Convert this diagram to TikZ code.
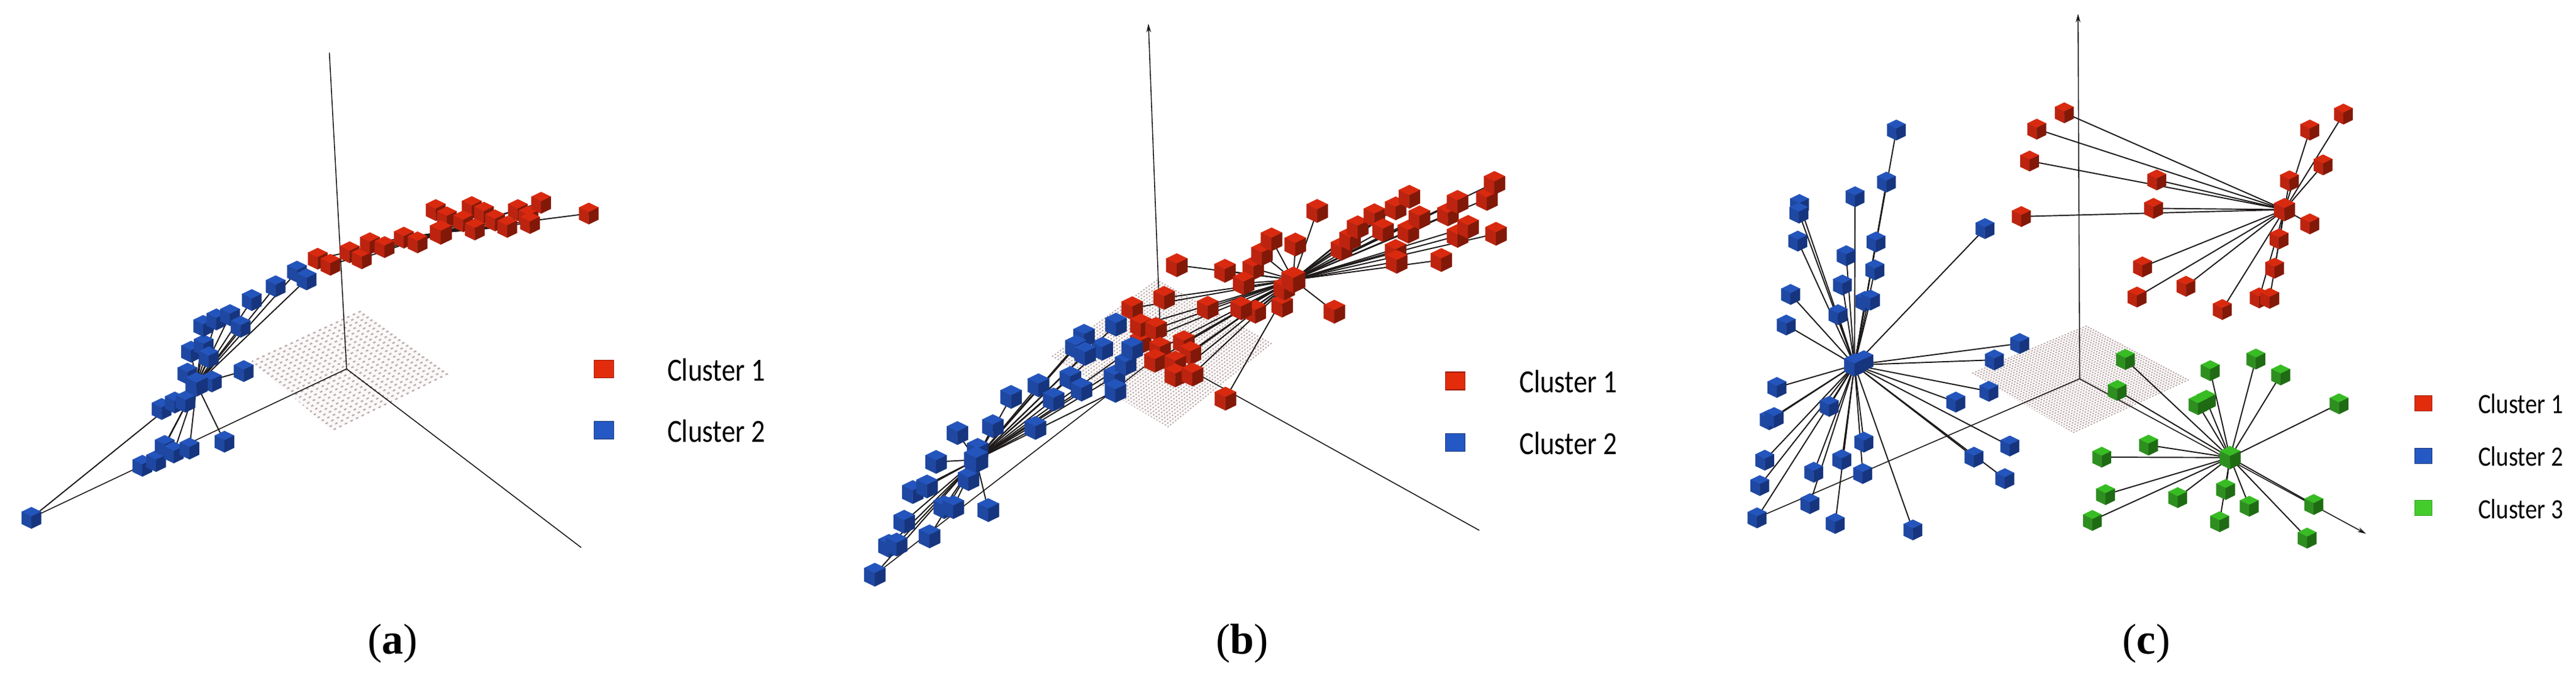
\documentclass[tikz,border=0pt]{standalone}
\usepackage{xcolor}
\usepackage{fontspec}
\usepackage{tikz}
\usetikzlibrary{calc, arrows.meta}
\setmainfont{Liberation Serif}
\newfontfamily\legendfont[FakeStretch=0.85]{Carlito}
\definecolor{redtop}{HTML}{D92A10}
\definecolor{redleft}{HTML}{BC2410}
\definecolor{redright}{HTML}{821808}
\definecolor{bluetop}{HTML}{2455BC}
\definecolor{blueleft}{HTML}{1E48A2}
\definecolor{blueright}{HTML}{16357E}
\definecolor{greentop}{HTML}{38BC24}
\definecolor{greenleft}{HTML}{2E8F20}
\definecolor{greenright}{HTML}{1F6B14}
\definecolor{legendRed}{HTML}{E22C0C}
\definecolor{legendBlue}{HTML}{2458C4}
\definecolor{legendGreen}{HTML}{44CC2C}
\definecolor{linkColor}{HTML}{1E1A1A}
\definecolor{gridFill}{HTML}{FAF8F8}
\definecolor{gridDot}{HTML}{B39E9E}
\pgfdeclarelayer{back}
\pgfdeclarelayer{links}
\pgfsetlayers{back,links,main}

% one cluster: colour, hub name, hub position, other cubes, cube scale
\newcommand\cluster[5]{
  \coordinate (#2) at (#3);
  \foreach \x/\y [count=\i] in {#4} {
    \coordinate (#2-\i) at (\x,\y);
    \begin{pgfonlayer}{links}
      \draw[link] (#2) -- (#2-\i);
    \end{pgfonlayer}
    \pic[scale=#5] at (#2-\i) {cube=#1};
  }
  \pic[scale=#5*1.12] at (#2) {cube=#1};
}
% floor plane: top, right, bottom, left corner, rows, row style
\newcommand\floorplane[6]{
  \begin{pgfonlayer}{back}
    \coordinate (T) at (#1);
    \coordinate (R) at (#2);
    \coordinate (B) at (#3);
    \coordinate (L) at (#4);
    \fill[gridFill] (T) -- (R) -- (B) -- (L) -- cycle;
    \foreach \k in {0,...,#5} {
      \pgfmathsetmacro\t{\k/#5}
      \draw[#6] ($(T)!\t!(R)$) -- ($(L)!\t!(B)$);
    }
  \end{pgfonlayer}
}

\begin{document}
\begin{tikzpicture}[
  link/.style={linkColor, line width=0.55pt},
  axisline/.style={linkColor, line width=0.45pt},
  axisarrow/.style={axisline, -{Stealth[length=4pt, width=2.2pt]}},
  coarserow/.style={gridDot!85, line width=0.7pt, dash pattern=on 1.2pt off 1.7pt},
  finerow/.style={gridDot, line width=0.45pt, dash pattern=on 0.7pt off 0.8pt},
  legendbox/.style={rectangle, inner sep=0pt, minimum width=0.32cm, minimum height=0.29cm, line width=0.3pt},
  legendtext/.style={anchor=base west, inner sep=0pt, font=\legendfont\fontsize{15}{15}\selectfont},
  smalltext/.style={anchor=base west, inner sep=0pt, font=\legendfont\fontsize{13}{13}\selectfont},
  subcaption/.style={font=\fontsize{20}{20}\selectfont, inner sep=0pt},
  pics/cube/.style={code={
    \begin{scope}[x=0.01cm, y=0.01cm, line width=0.1pt]
      \filldraw[#1top] (0,16) -- (14.5,9) -- (0,2) -- (-14.5,9) -- cycle;
      \filldraw[#1left] (-14.5,9) -- (0,2) -- (0,-16) -- (-14.5,-9) -- cycle;
      \filldraw[#1right] (14.5,9) -- (0,2) -- (0,-16) -- (14.5,-9) -- cycle;
    \end{scope}
  }}
]
  \useasboundingbox (0,0) rectangle (42.12,-11.02);

  % Panel a
  \begin{scope}[x=0.008291cm, y=-0.007028cm]
    \floorplane{712,723}{884,868}{655,1000}{497,840}{22}{coarserow}
    \coordinate (originA) at (684,857);
    \coordinate (upA) at (650,122);
    \coordinate (rightA) at (1147,1272);
    \coordinate (leftA) at (62,1203);
    \begin{pgfonlayer}{back}
      \draw[axisline] (originA) -- (upA);
      \draw[axisline] (originA) -- (rightA);
      \draw[axisline] (originA) -- (leftA);
    \end{pgfonlayer}
    \pic[scale=1.1] at (281,1082) {cube=blue};
    \cluster{blue}{hubBlueA}{388,893}{62/1203, 308/1071, 325/1036, 343/1051, 374/1042, 443/1026, 319/950, 345/935, 366/933, 481/862, 418/886, 370/868, 377/817, 402/802, 412/830, 401/757, 427/742, 454/732, 475/759, 497/697, 544/665, 586/631, 605/649}{1.1}
    \cluster{red}{hubRedA}{870,540}{627/601, 652/615, 690/586, 714/600, 730/565, 759/574, 797/552, 824/563, 860/488, 882/505, 931/481, 914/514, 955/494, 977/512, 937/533, 1001/527, 1022/488, 1043/503, 1046/518, 1068/471, 1162/496}{1.1}
    \node[legendbox, draw=legendRed!70!black, fill=legendRed] (boxRedA) at (1192,857) {};
    \node[legendbox, draw=legendBlue!60!black, fill=legendBlue] (boxBlueA) at (1192,1000) {};
    \node[legendtext] (textRedA) at (1316,885) {Cluster 1};
    \node[legendtext] (textBlueA) at (1316,1027) {Cluster 2};
    \node[subcaption] (capA) at (775,1495) {(\textbf{a})};
  \end{scope}

  % Panel b
  \begin{scope}[xshift=13.5cm, x=0.008291cm, y=-0.007028cm]
    \floorplane{655,650}{880,797}{675,992}{445,830}{42}{finerow}
    \coordinate (originB) at (662,822);
    \coordinate (upB) at (637,55);
    \coordinate (rightB) at (1290,1232);
    \coordinate (leftB) at (97,1335);
    \begin{pgfonlayer}{back}
      \draw[axisarrow] (originB) -- (upB);
      \draw[axisline] (originB) -- (rightB);
      \draw[axisline] (originB) -- (leftB);
    \end{pgfonlayer}
    \cluster{red}{hubRedB}{923,650}{693/616, 788/629, 844/623, 825/658, 861/590, 880/556, 927/568, 970/490, 1004/724, 901/710, 848/724, 820/716, 754/715, 668/692, 605/716, 622/795, 622/756, 652/764, 660/810, 707/795, 720/820, 650/838, 690/842, 690/872, 724/870, 789/926, 1018/578, 1035/555, 1050/528, 1083/500, 1100/535, 1125/484, 1152/457, 1150/538, 1172/505, 1228/498, 1247/469, 1305/462, 1320/425, 1247/548, 1268/527, 1323/543, 1215/604, 1125/583, 1127/608, 905/670}{1.2}
    \cluster{blue}{hubBlueB}{297,1068}{97/1335, 125/1268, 140/1265, 205/1246, 155/1212, 321/1185, 234/1178, 252/1178, 172/1143, 200/1130, 282/1113, 218/1073, 260/1006, 300/1045, 330/990, 414/994, 366/922, 420/895, 450/928, 483/878, 505/905, 570/875, 572/908, 592/845, 605/810, 546/810, 510/780, 494/806, 512/822, 573/754}{1.2}
    \node[legendbox, draw=legendRed!70!black, fill=legendRed] (boxRedB) at (1243,885) {};
    \node[legendbox, draw=legendBlue!60!black, fill=legendBlue] (boxBlueB) at (1243,1028) {};
    \node[legendtext] (textRedB) at (1368,912) {Cluster 1};
    \node[legendtext] (textBlueB) at (1368,1055) {Cluster 2};
    \node[subcaption] (capB) at (822,1495) {(\textbf{b})};
  \end{scope}

  % Panel c
  \begin{scope}[xshift=28cm, x=0.009005cm, y=-0.007028cm]
    \floorplane{680,757}{865,882}{655,1005}{470,868}{42}{finerow}
    \coordinate (originC) at (667,880);
    \coordinate (upC) at (664,32);
    \coordinate (rightC) at (1187,1240);
    \coordinate (leftC) at (81,1203);
    \begin{pgfonlayer}{back}
      \draw[axisarrow] (originC) -- (upC);
      \draw[axisarrow] (originC) -- (rightC);
      \draw[axisline] (originC) -- (leftC);
    \end{pgfonlayer}
    \cluster{red}{hubRedC}{1039,487}{639/262, 589/300, 576/374, 561/503, 807/418, 801/484, 1146/265, 1085/302, 1109/383, 1048/420, 1085/520, 1029/555, 1021/623, 781/620, 771/690, 860/665, 926/719, 993/692, 1012/693}{1.05}
    \cluster{blue}{hubBlueC}{258,848}{275/838, 334/302, 316/423, 259/457, 158/475, 157/495, 155/560, 297/562, 243/594, 295/627, 236/662, 277/700, 287/697, 142/684, 228/731, 134/755, 495/531, 558/798, 512/836, 502/909, 442/934, 540/1036, 475/1062, 531/1112, 212/944, 117/900, 103/975, 112/970, 275/1027, 235/1068, 273/1100, 184/1097, 95/1069, 86/1128, 177/1170, 81/1203, 223/1216, 364/1231}{1.05}
    \cluster{green}{hubGreenC}{940,1063}{750/835, 735/907, 904/861, 987/834, 1032/871, 897/930, 882/940, 1138/938, 792/1034, 707/1062, 714/1149, 845/1156, 690/1209, 932/1137, 975/1176, 921/1212, 1092/1172, 1080/1250}{1.05}
    \node[legendbox, minimum width=0.28cm, minimum height=0.25cm, draw=legendRed!70!black, fill=legendRed] (boxRedC) at (1291,937) {};
    \node[legendbox, minimum width=0.28cm, minimum height=0.25cm, draw=legendBlue!60!black, fill=legendBlue] (boxBlueC) at (1291,1059) {};
    \node[legendbox, minimum width=0.28cm, minimum height=0.25cm, draw=legendGreen!80!black, fill=legendGreen] (boxGreenC) at (1291,1180) {};
    \node[smalltext] (textRedC) at (1390,960) {Cluster 1};
    \node[smalltext] (textBlueC) at (1390,1082) {Cluster 2};
    \node[smalltext] (textGreenC) at (1390,1205) {Cluster 3};
    \node[subcaption] (capC) at (788,1495) {(\textbf{c})};
  \end{scope}
\end{tikzpicture}
\end{document}
